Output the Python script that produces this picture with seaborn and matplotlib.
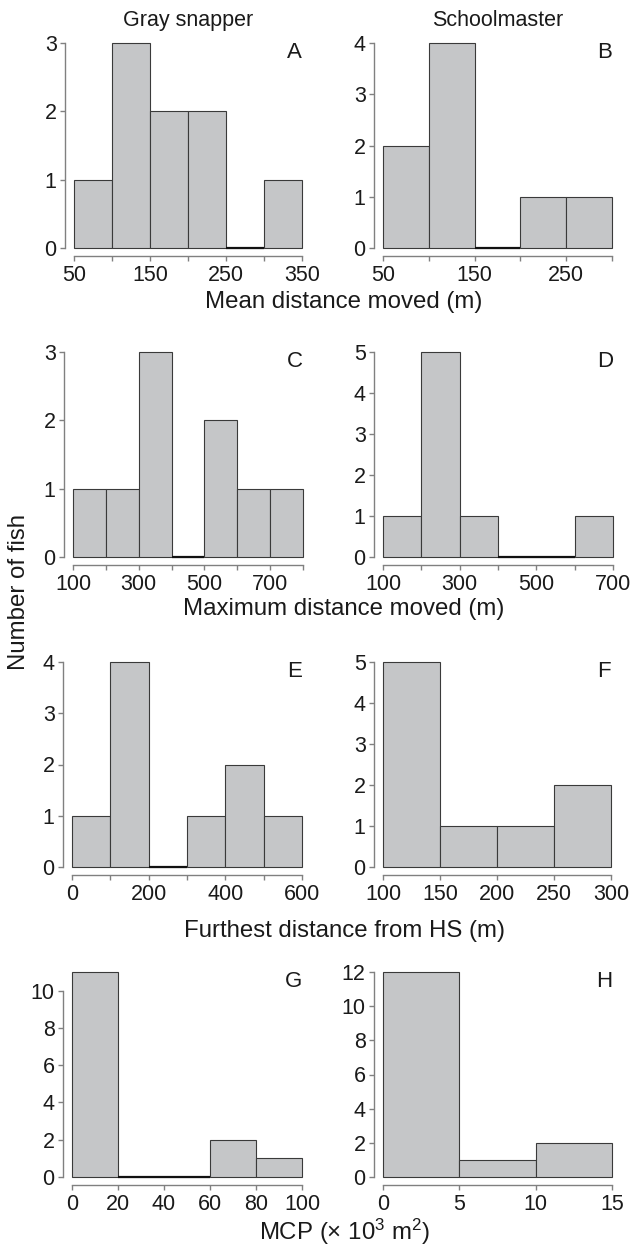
import numpy as np
import matplotlib
matplotlib.use("Agg")
import matplotlib.pyplot as plt
import seaborn as sns

# bin edges and counts
edges_a = [50, 100, 150, 200, 250, 300, 350]
counts_a = [1, 3, 2, 2, 0, 1]
edges_b = [50, 100, 150, 200, 250, 300]
counts_b = [2, 4, 0, 1, 1]
edges_c = [100, 200, 300, 400, 500, 600, 700, 800]
counts_c = [1, 1, 3, 0, 2, 1, 1]
edges_d = [100, 200, 300, 400, 500, 600, 700]
counts_d = [1, 5, 1, 0, 0, 1]
edges_e = [0, 100, 200, 300, 400, 500, 600]
counts_e = [1, 4, 0, 1, 2, 1]
edges_f = [100, 150, 200, 250, 300]
counts_f = [5, 1, 1, 2]
edges_g = [0, 20, 40, 60, 80, 100]
counts_g = [11, 0, 0, 2, 1]
edges_h = [0, 5, 10, 15]
counts_h = [12, 1, 2]

# labelled x ticks and y ticks per panel
xlab_a = [50, 150, 250, 350]
xlab_b = [50, 150, 250]
xlab_c = [100, 300, 500, 700]
xlab_d = [100, 300, 500, 700]
xlab_e = [0, 200, 400, 600]
xlab_f = [100, 150, 200, 250, 300]
xlab_g = [0, 20, 40, 60, 80, 100]
xlab_h = [0, 5, 10, 15]
yt_a = [0, 1, 2, 3]
yt_b = [0, 1, 2, 3, 4]
yt_c = [0, 1, 2, 3]
yt_d = [0, 1, 2, 3, 4, 5]
yt_e = [0, 1, 2, 3, 4]
yt_f = [0, 1, 2, 3, 4, 5]
yt_g = [0, 2, 4, 6, 8, 10]
yt_h = [0, 2, 4, 6, 8, 10, 12]

sns.set_style("ticks")
plt.rcParams['font.family'] = ['Liberation Sans', 'DejaVu Sans']
plt.rcParams['mathtext.fontset'] = 'custom'
plt.rcParams['mathtext.rm'] = 'Liberation Sans'
plt.rcParams['mathtext.it'] = 'Liberation Sans'
plt.rcParams['mathtext.default'] = 'regular'

W, H = 634, 1248
fig = plt.figure(figsize=(W / 100, H / 100), dpi=100)

panels = [
    ("A", edges_a, counts_a, xlab_a, yt_a, 3, 74, 302, 248),
    ("B", edges_b, counts_b, xlab_b, yt_b, 4, 383, 612, 248),
    ("C", edges_c, counts_c, xlab_c, yt_c, 3, 73, 303, 557),
    ("D", edges_d, counts_d, xlab_d, yt_d, 5, 383, 613, 557),
    ("E", edges_e, counts_e, xlab_e, yt_e, 4, 72, 302, 867),
    ("F", edges_f, counts_f, xlab_f, yt_f, 5, 383, 611, 867),
    ("G", edges_g, counts_g, xlab_g, yt_g, 11, 72, 302, 1177),
    ("H", edges_h, counts_h, xlab_h, yt_h, 12, 383, 612, 1177),
]

spine_col = "#808080"
txt = "#1a1a1a"
for letter, edges, counts, xlab, yt, ytop, x0, x1, y0 in panels:
    ax = fig.add_axes([x0 / W, 1 - y0 / H, (x1 - x0) / W, 205 / H])
    centers = [(a + b) / 2 for a, b in zip(edges[:-1], edges[1:])]
    sns.histplot(x=centers, weights=counts, bins=edges, ax=ax,
                 color="#c5c6c8", edgecolor="#3a3a3a", linewidth=0.8, alpha=1)
    for p in ax.patches:
        p.set_clip_on(False)
    # empty bins show as a dark line on the baseline
    for a, b, c in zip(edges[:-1], edges[1:], counts):
        if c == 0:
            ax.hlines(0, a, b, color="#111111", linewidth=1.6, clip_on=False, zorder=5)
    ax.set_xlim(edges[0], edges[-1])
    ax.set_ylim(0, ytop)
    ax.set_xticks(edges)
    ax.set_xticklabels([str(e) if e in xlab else "" for e in edges])
    ax.set_yticks(yt)
    ax.set_xlabel("")
    ax.set_ylabel("")
    for s in ["top", "right"]:
        ax.spines[s].set_visible(False)
    ax.spines["left"].set_position(("outward", 6.5))
    ax.spines["bottom"].set_position(("outward", 6))
    ax.spines["left"].set_bounds(yt[0], yt[-1])
    ax.spines["bottom"].set_bounds(edges[0], edges[-1])
    for s in ["left", "bottom"]:
        ax.spines[s].set_color(spine_col)
        ax.spines[s].set_linewidth(1)
    ax.tick_params(axis="both", direction="out", length=3.5, width=1,
                   color=spine_col, labelsize=15.5, labelcolor=txt, pad=2.5)
    ax.text(1.0, 0.956, letter, transform=ax.transAxes,
            ha="right", va="center", fontsize=16, color=txt)
    if letter == "A":
        ax.set_title("Gray snapper", fontsize=15.5, pad=12, color=txt)
    if letter == "B":
        ax.set_title("Schoolmaster", fontsize=15.5, pad=12, color=txt)

xc = 344 / W
fs = 17.3
fig.text(xc, 1 - 302 / H, "Mean distance moved (m)", ha="center", va="center", fontsize=fs, color=txt)
fig.text(xc, 1 - 609 / H, "Maximum distance moved (m)", ha="center", va="center", fontsize=fs, color=txt)
fig.text(xc, 1 - 931 / H, "Furthest distance from HS (m)", ha="center", va="center", fontsize=fs, color=txt)
fig.text(xc, 1 - 1232 / H, "MCP (× 10$^3$ m$^2$)", ha="center", va="center", fontsize=fs, color=txt)
fig.text(19 / W, 1 - 592 / H, "Number of fish", ha="center", va="center", rotation=90,
         fontsize=fs, color=txt)

fig.savefig("out.png", dpi=100)
